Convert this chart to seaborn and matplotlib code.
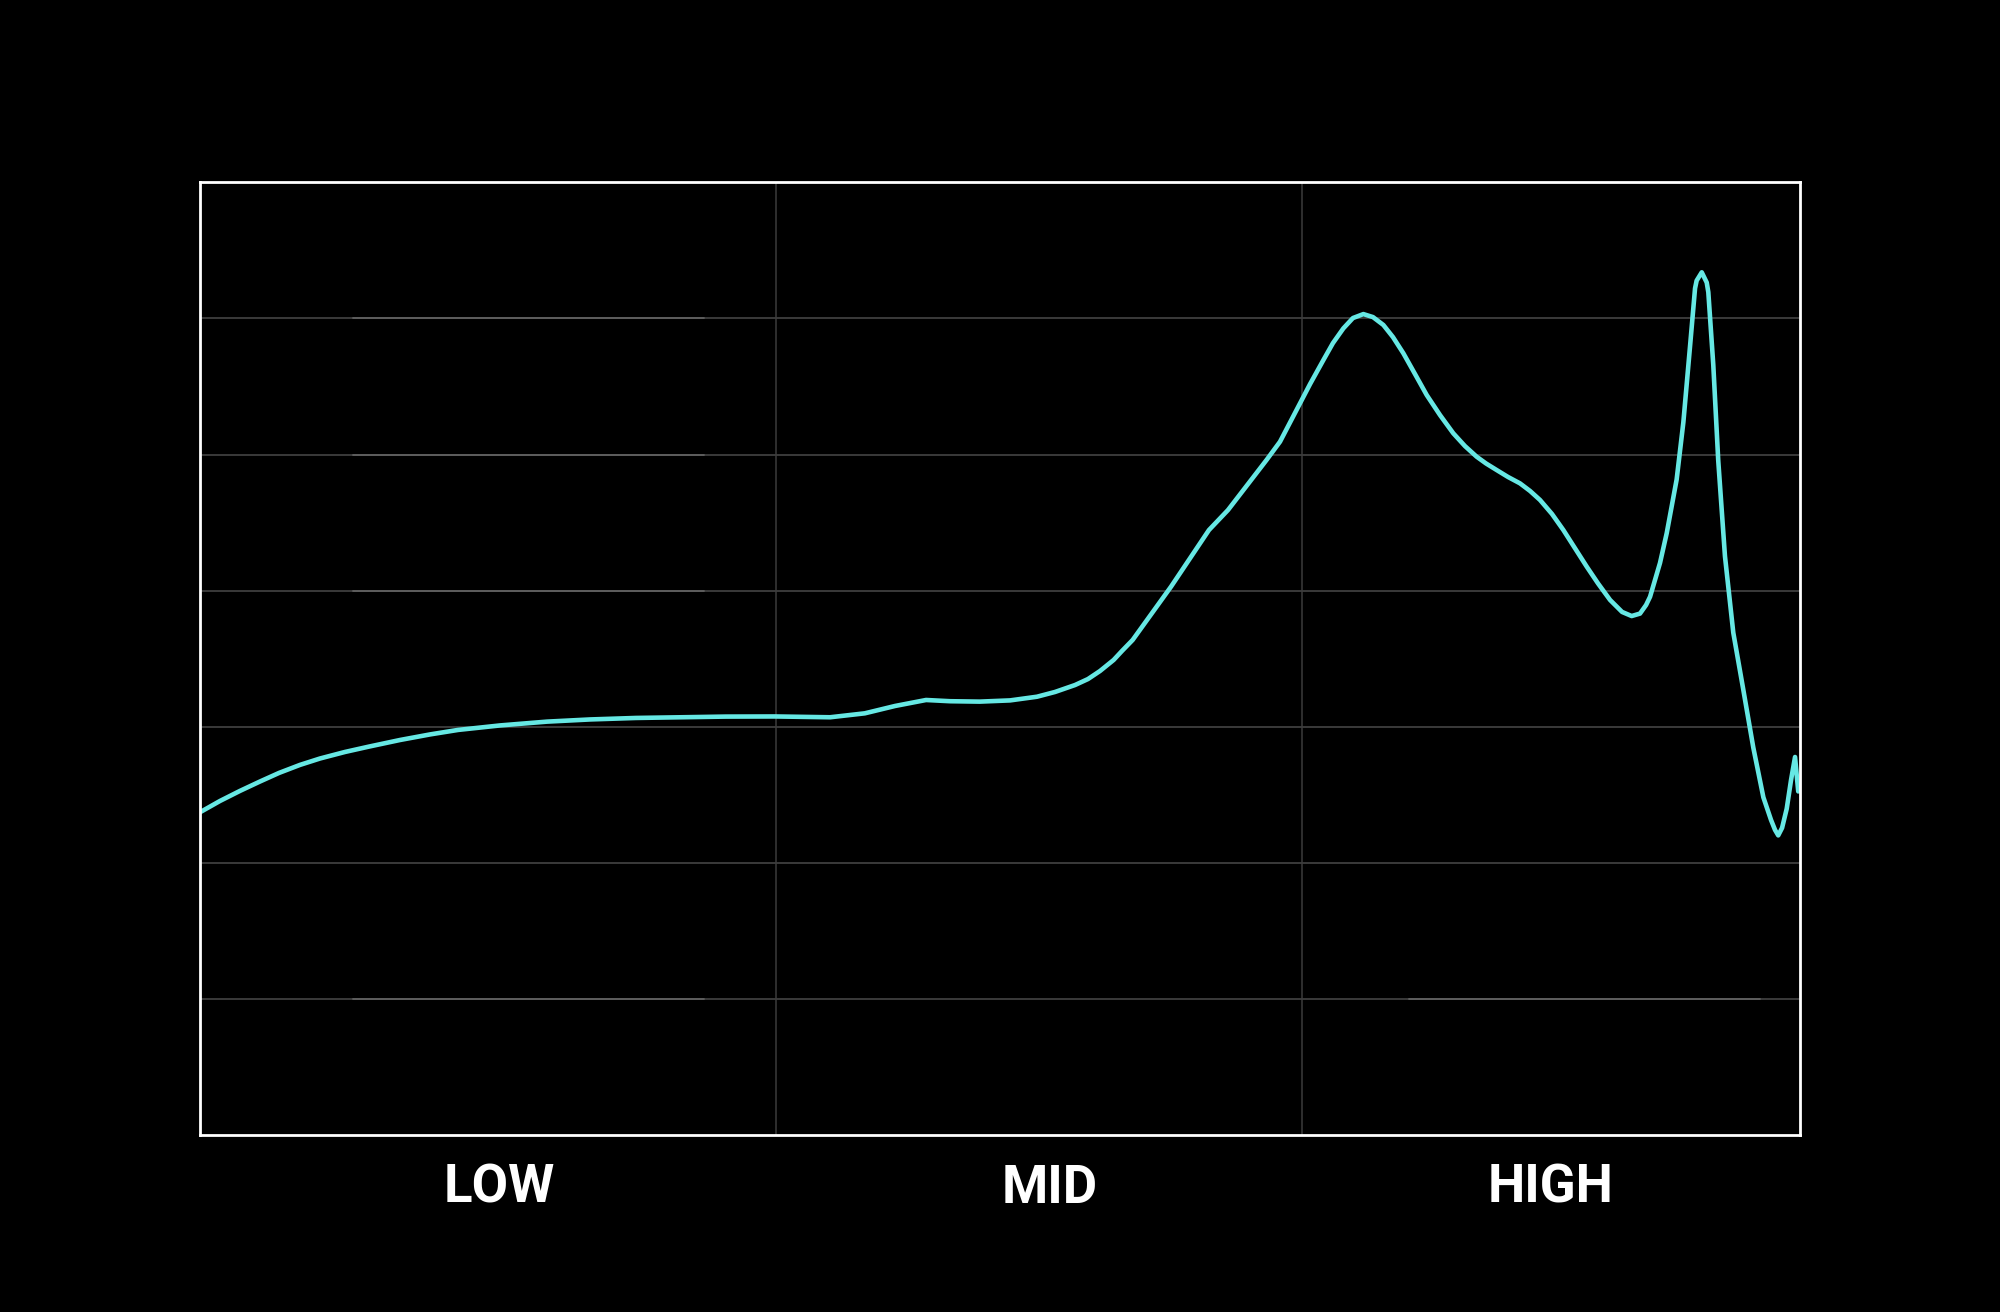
import numpy as np
import pandas as pd
import seaborn as sns
import matplotlib.pyplot as plt

# frequency position (0-100 across the plot) and level (0-70)
pos = [0.0, 1.25, 2.5, 3.75, 4.94, 6.25, 7.5, 9.06, 10.54, 12.5,
       14.38, 16.13, 18.75, 21.69, 24.38, 27.25, 32.86, 35.94, 39.38, 41.55,
       43.44, 45.38, 46.88, 48.73, 50.63, 52.31, 53.44, 54.69, 55.5, 56.25,
       57.10, 57.63, 58.29, 60.69, 63.06, 64.25, 66.66, 67.5, 68.75, 69.38,
       70.21, 70.81, 71.46, 72.06, 72.71, 73.31, 73.96, 74.56, 75.21, 75.94,
       76.67, 77.5, 78.33, 79.06, 79.79, 80.38, 81.04, 81.75, 82.5, 83.13,
       83.75, 84.5, 85.21, 86.67, 87.38, 88.13, 88.88, 89.48, 90.0, 90.38,
       90.63, 91.25, 91.67, 92.29, 92.71, 93.13, 93.44, 93.54, 93.86, 94.17,
       94.27, 94.58, 94.89, 95.31, 95.83, 96.46, 97.08, 97.71, 98.19, 98.44,
       98.64, 98.88, 99.17, 99.44, 99.69, 99.89]
level = [23.71, 24.54, 25.28, 25.97, 26.60, 27.19, 27.66, 28.14, 28.53, 29.02,
         29.43, 29.76, 30.09, 30.37, 30.53, 30.64, 30.74, 30.75, 30.69, 30.98,
         31.52, 31.96, 31.87, 31.84, 31.93, 32.20, 32.55, 33.06, 33.50, 34.09,
         34.90, 35.57, 36.37, 40.29, 44.45, 45.92, 49.60, 50.94, 53.76, 55.18,
         56.94, 58.19, 59.27, 60.03, 60.32, 60.10, 59.52, 58.63, 57.44, 55.91,
         54.37, 52.90, 51.56, 50.62, 49.84, 49.34, 48.86, 48.35, 47.88, 47.32,
         46.66, 45.63, 44.45, 41.76, 40.52, 39.31, 38.43, 38.13, 38.31, 38.94,
         39.55, 42.03, 44.22, 48.16, 52.37, 57.99, 62.21, 62.78, 63.39, 62.64,
         61.93, 56.59, 49.56, 42.53, 36.91, 32.69, 28.47, 24.81, 23.14, 22.41,
         22.01, 22.56, 23.97, 26.08, 27.77, 25.24]

band_names = ["LOW", "MID", "HIGH"]
band_centers = [18.69, 53.13, 84.38]
band_edges = [35.97, 68.88]

df = pd.DataFrame({"pos": pos, "level": level})

sns.set_style("dark", {"axes.facecolor": "black", "figure.facecolor": "black"})
plt.rcParams["font.family"] = ["Roboto", "DejaVu Sans"]

fig = plt.figure(figsize=(20, 13.12), dpi=100)
ax = fig.add_axes([0.1, 0.135, 0.8, 0.726])
ax.set_facecolor("black")

# grid
for yv in range(10, 70, 10):
    ax.axhline(yv, color="#4a4a4a", lw=1.1, zorder=1)
for xv in band_edges:
    ax.axvline(xv, color="#3c3c3c", lw=1.1, zorder=1)
# slightly brighter overlaid segments
for yv in [60, 50, 40, 10]:
    ax.plot([9.56, 31.5], [yv, yv], color="#606060", lw=1.3, zorder=1.5)
ax.plot([75.56, 97.5], [10, 10], color="#606060", lw=1.3, zorder=1.5)

sns.lineplot(data=df, x="pos", y="level", ax=ax, color="#66E8E4",
             linewidth=3.3, estimator=None, sort=False, zorder=3)

ax.set_xlim(0, 100)
ax.set_ylim(0, 70)
ax.set_yticks([])
ax.set_xticks(band_centers)
ax.set_xticklabels(band_names, fontsize=38, fontweight="bold", color="white")
ax.tick_params(axis="x", length=0, pad=20)
ax.set_xlabel("")
ax.set_ylabel("")
ax.grid(False)
for s in ax.spines.values():
    s.set_visible(True)
    s.set_color("white")
    s.set_linewidth(2)
    s.set_zorder(4)

fig.savefig("out.png", dpi=100, facecolor="black")
